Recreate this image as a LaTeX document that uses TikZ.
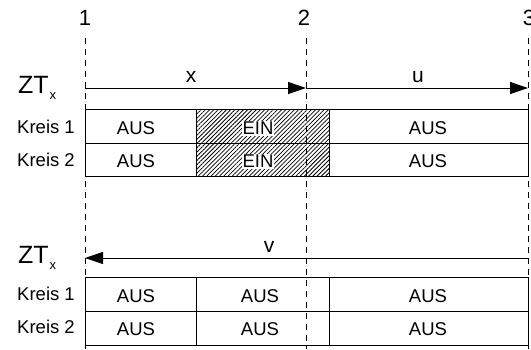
\documentclass[tikz,border=0pt]{standalone}
\usepackage{fontspec}
\setmainfont{Liberation Sans}
\usetikzlibrary{arrows.meta,patterns.meta}
\begin{document}
\begin{tikzpicture}[x=1pt,y=-1pt,
  guide/.style={draw, line width=0.9pt, dash pattern=on 6pt off 5pt},
  frame/.style={draw, line width=1pt},
  dim/.style={draw, line width=1pt, -{Triangle[length=18pt,width=12pt]}},
  cell/.style={font=\fontsize{18.5}{18.5}\selectfont, inner sep=0pt},
  lab/.style={font=\fontsize{18.5}{18.5}\selectfont, anchor=east, inner sep=0pt},
  num/.style={font=\fontsize{22}{22}\selectfont, inner sep=0pt},
  var/.style={font=\fontsize{21}{21}\selectfont, inner sep=0pt},
  zt/.style={font=\fontsize{25}{25}\selectfont, inner sep=0pt, anchor=base west},
  hatch/.style={pattern={Lines[angle=45,distance=3pt,line width=0.75pt]}},
  ein/.style={cell, fill=white, inner sep=1pt}
]
\useasboundingbox (0,0) rectangle (531,349);

% guide coordinates
\coordinate (g1t) at (85,38);  \coordinate (g1b) at (85,349);
\coordinate (g2t) at (306,38); \coordinate (g2b) at (306,349);
\coordinate (g3t) at (528,38); \coordinate (g3b) at (528,349);

% numbers
\node[num] (n1) at (85,18) {1};
\node[num] (n2) at (304,18) {2};
\node[num] (n3) at (529,18) {3};

% upper section
\node[zt] (zt1) at (18,93) {ZT\kern1pt\raisebox{-6pt}{\fontsize{13}{13}\selectfont x}};
\coordinate (a1) at (85,88);
\coordinate (a2) at (306,88);
\coordinate (a3) at (528,88);
\draw[dim] (a1) -- (a2);
\draw[dim] (a2) -- (a3);
\node[var] (lx) at (191,77) {x};
\node[var] (lu) at (418,77) {u};

\path[hatch] (196,109) rectangle (329,176);
\draw[frame] (85,109) rectangle (528,176);
\draw[frame] (85,143) -- (528,143);
\draw[frame] (196,109) rectangle (329,176);

\node[lab] (k11) at (75,126.5) {Kreis 1};
\node[lab] (k12) at (75,160) {Kreis 2};
\node[cell] (c11) at (136,128.5) {AUS};
\node[cell] (c21) at (136,161.5) {AUS};
\node[ein] (c12) at (258,128.5) {EIN};
\node[ein] (c22) at (258,161.5) {EIN};
\node[cell] (c13) at (428,128.5) {AUS};
\node[cell] (c23) at (428,161.5) {AUS};

% lower section
\node[zt] (zt2) at (18,263) {ZT\kern1pt\raisebox{-6pt}{\fontsize{13}{13}\selectfont x}};
\coordinate (b1) at (85,258);
\coordinate (b3) at (528,258);
\draw[dim] (b3) -- (b1);
\node[var] (lv) at (269,247) {v};

\draw[frame] (85,277) rectangle (528,345);
\draw[frame] (85,311) -- (528,311);
\draw[frame] (196,277) -- (196,345);
\draw[frame] (329,277) -- (329,345);

\node[lab] (k21) at (75,293.5) {Kreis 1};
\node[lab] (k22) at (75,327) {Kreis 2};
\node[cell] (d11) at (136,296) {AUS};
\node[cell] (d21) at (136,329) {AUS};
\node[cell] (d12) at (260,296) {AUS};
\node[cell] (d22) at (260,329) {AUS};
\node[cell] (d13) at (428,296) {AUS};
\node[cell] (d23) at (428,329) {AUS};

% dashed guides
\draw[guide] (g1t) -- (g1b);
\draw[guide] (g2t) -- (g2b);
\draw[guide] (g3t) -- (g3b);
\end{tikzpicture}
\end{document}
